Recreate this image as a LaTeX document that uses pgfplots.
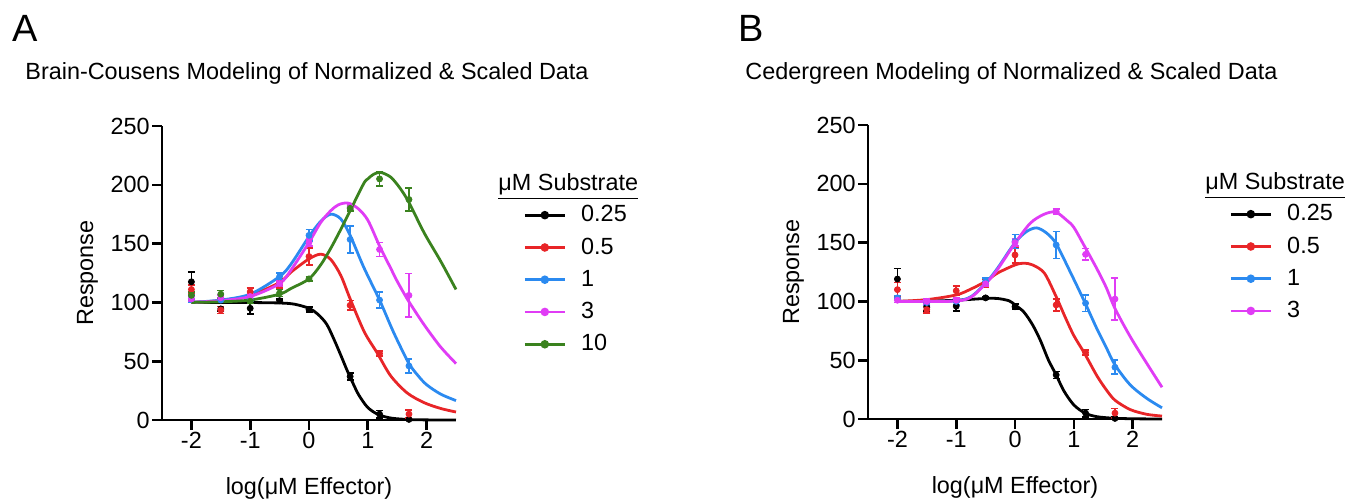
\documentclass[border=0pt]{standalone}
\usepackage{fontspec}
\setmainfont{Liberation Sans}
\usepackage{pgfplots}
\pgfplotsset{compat=1.18}

\definecolor{cblk}{HTML}{000000}
\definecolor{cred}{HTML}{E82528}
\definecolor{cblu}{HTML}{2B8AF0}
\definecolor{cmag}{HTML}{E03CF5}
\definecolor{cgrn}{HTML}{3A821E}

\newcommand{\txt}{\fontsize{11.7}{14}\selectfont}

\pgfplotsset{
  gp/.style={
    width=147pt, height=147pt, scale only axis,
    xmin=-2.5, xmax=2.5, ymin=0, ymax=250,
    axis lines=left, axis line style={-, line width=1.3pt},
    tick align=outside, major tick length=5pt,
    tick style={line width=1.3pt, black},
    xtick={-2,-1,0,1,2}, xticklabels={-2,-1,0,1,2},
    ytick={0,50,100,150,200,250}, yticklabels={0,50,100,150,200,250},
    font=\txt, ticklabel style={font=\txt},
    xticklabel style={inner sep=1pt},
    yticklabel style={inner sep=1pt},
    clip=false,
    every axis x label/.style={at={(axis description cs:0.5,-0.255)}, anchor=base},
    every axis y label/.style={at={(axis description cs:-0.2347,0.5)}, rotate=90, anchor=base},
    xlabel={log(μM Effector)}, ylabel={Response},
    legend cell align=left,
    legend image code/.code={\draw[mark repeat=2,mark phase=2,#1]
      plot coordinates {(0pt,0pt) (10pt,0pt) (20pt,0pt)};},
    legend style={at={(1.228,0.731)}, anchor=north west, draw=none, fill=none,
      inner sep=0pt, row sep=6.5pt, column sep=7.5pt, nodes={inner sep=0pt}, font=\txt},
  },
  fit/.style={#1, line width=1.4pt, smooth, forget plot},
  dots/.style={#1, only marks, mark=*, mark size=1.5pt, forget plot,
    error bars/.cd, y dir=both, y explicit,
    error bar style={#1, line width=0.85pt},
    error mark options={#1, rotate=90, mark size=1.75pt, line width=0.85pt}},
  key/.style={#1, line width=1.4pt, mark=*, mark size=1.4pt},
}

\begin{document}
\begin{tikzpicture}[font=\txt]
\path[use as bounding box] (0,0) rectangle (673.5pt,249pt);

\node[anchor=base west, inner sep=0, font=\fontsize{19}{22}\selectfont] at (6pt,228pt) {A};
\node[anchor=base west, inner sep=0] at (12.5pt,209pt) {Brain-Cousens Modeling of Normalized \& Scaled Data};
\node[anchor=base west, inner sep=0, font=\fontsize{19}{22}\selectfont] at (369pt,228pt) {B};
\node[anchor=base west, inner sep=0] at (372.5pt,209pt) {Cedergreen Modeling of Normalized \& Scaled Data};

% ---------------- panel A: Brain-Cousens
\begin{axis}[gp, at={(81pt,39pt)}, anchor=south west]
\addplot[fit=cblk] table {
x y
-2 100
-1.5 100
-1 99.9
-0.5 99.5
-0.25 98.5
0 95
0.15 90
0.3 81.5
0.43 68
0.55 54
0.65 42
0.75 31
0.85 21
1.0 10.6
1.18 4.6
1.4 1.6
1.7 0.4
2.0 0.1
2.5 0
};
\addplot[dots=cblk] table[y error=e] {
x y e
-2 117.5 8.5
-1.5 94.5 2
-1 95 5
-0.5 101.5 1.5
0 94 2
0.7 37 3
1.2 5 3
1.7 0.5 1
};
\addplot[fit=cred] table {
x y
-2 100
-1.5 101.5
-1 106
-0.5 117
-0.3 126
0 137
0.2 141
0.37 136.5
0.54 123
0.7 103
0.94 75
1.16 57
1.39 37.5
1.67 23
1.96 14.7
2.24 9.8
2.5 6.8
};
\addplot[dots=cred] table[y error=e] {
x y e
-2 111 4
-1.5 93.5 3
-1 109 3
-0.5 116 4
0 139 7
0.7 97.5 4
1.2 56.5 2
1.7 5 3.5
};
\addplot[fit=cblu] table {
x y
-2 100
-1.5 102
-1 107
-0.5 122
-0.3 133
0 156
0.2 169
0.37 175
0.54 171
0.7 157
0.93 130
1.2 102
1.39 80
1.5 68
1.7 48
1.85 38
2.0 30
2.24 22
2.5 16.5
};
\addplot[dots=cblu] table[y error=e] {
x y e
-2 103 3
-1.5 102 2
-1 103 2
-0.5 122 3
0 157 5
0.7 153.5 11.5
1.2 102 7
1.7 46 6
};
\addplot[fit=cmag] table {
x y
-2 100
-1.5 101.5
-1 105
-0.5 116
-0.3 128
0 151
0.2 168
0.37 178
0.5 183
0.66 184.5
0.83 180
1.0 170
1.2 148
1.39 129
1.5 118
1.67 103
1.85 89
2.0 78
2.24 62
2.5 48
};
\addplot[dots=cmag] table[y error=e] {
x y e
-2 103 2
-1.5 104 2
-1 105 2
-0.5 116 2
0 151 3
0.7 181 2
1.2 145 6
1.7 106 18.5
};
\addplot[fit=cgrn] table {
x y
-2 100
-1.5 100.5
-1 102
-0.5 107
-0.3 112
0 120
0.2 132
0.37 146
0.55 163
0.7 178
0.93 201
1.0 205
1.1 209
1.22 210.5
1.39 206.5
1.55 197
1.7 185
1.96 159
2.24 135
2.5 111
};
\addplot[dots=cgrn] table[y error=e] {
x y e
-2 106 3
-1.5 107 3
-1 101 2
-0.5 108 3
0 120 2
0.7 180 2
1.2 205 6
1.7 187.5 10
};
\addlegendimage{key=cblk}\addlegendentry{0.25}
\addlegendimage{key=cred}\addlegendentry{0.5}
\addlegendimage{key=cblu}\addlegendentry{1}
\addlegendimage{key=cmag}\addlegendentry{3}
\addlegendimage{key=cgrn}\addlegendentry{10}
\node[anchor=base west, inner sep=0] at (rel axis cs:1.143,0.78) {\underline{μM Substrate}};
\end{axis}

% ---------------- panel B: Cedergreen
\begin{axis}[gp, at={(434pt,39.5pt)}, anchor=south west]
\addplot[fit=cblk] table {
x y
-2 100
-1.5 100.2
-1 101
-0.5 102.5
-0.3 102.5
-0.1 100.5
0 97
0.15 91
0.3 80
0.43 67
0.57 50
0.7 37.5
0.83 24
1.0 12
1.19 5
1.39 2
1.67 0.7
2.0 0.2
2.5 0
};
\addplot[dots=cblk] table[y error=e] {
x y e
-2 119 9
-1.5 95 3
-1 96 4
-0.5 103 1
0 95.5 2
0.7 37.5 3
1.2 5 3
1.7 0.5 1
};
\addplot[fit=cred] table {
x y
-2 100
-1.5 101.5
-1 105.5
-0.75 110.5
-0.5 117
-0.3 124
0 131
0.15 132.5
0.3 131
0.5 124
0.7 104
0.85 87
1.0 71
1.18 56
1.39 37
1.55 25
1.7 16
1.96 8
2.24 4
2.5 2.5
};
\addplot[dots=cred] table[y error=e] {
x y e
-2 110 6
-1.5 93 3
-1 109 4
-0.5 115.5 3
0 139.5 7
0.7 97 5
1.2 56.5 2
1.7 5 4
};
\addplot[fit=cblu] table {
x y
-2 100
-1.5 100
-1 100.5
-0.75 104
-0.5 115.5
-0.3 128
0 150
0.2 159.5
0.37 162.5
0.54 158
0.7 149
0.94 125
1.18 100
1.39 77
1.55 61
1.7 46
1.96 29
2.24 17.6
2.5 9.5
};
\addplot[dots=cblu] table[y error=e] {
x y e
-2 103 2
-1.5 99 2
-1 100 3
-0.5 117 3
0 151 6
0.7 148 11.5
1.2 98.5 7
1.7 44 6
};
\addplot[fit=cmag] table {
x y
-2 100
-1.5 100
-1 100.3
-0.75 103.5
-0.5 115
-0.3 127
0 149.5
0.26 166.5
0.49 174
0.69 176
0.88 169
1.0 163
1.17 148
1.39 128
1.55 112
1.7 94
1.96 70
2.24 47.4
2.5 27
};
\addplot[dots=cmag] table[y error=e] {
x y e
-2 101 2
-1.5 100 2
-1 101 2
-0.5 115 2
0 150 3
0.7 176.5 2
1.2 140 5
1.7 102 18
};
\addlegendimage{key=cblk}\addlegendentry{0.25}
\addlegendimage{key=cred}\addlegendentry{0.5}
\addlegendimage{key=cblu}\addlegendentry{1}
\addlegendimage{key=cmag}\addlegendentry{3}
\node[anchor=base west, inner sep=0] at (rel axis cs:1.146,0.78) {\underline{μM Substrate}};
\end{axis}
\end{tikzpicture}
\end{document}
